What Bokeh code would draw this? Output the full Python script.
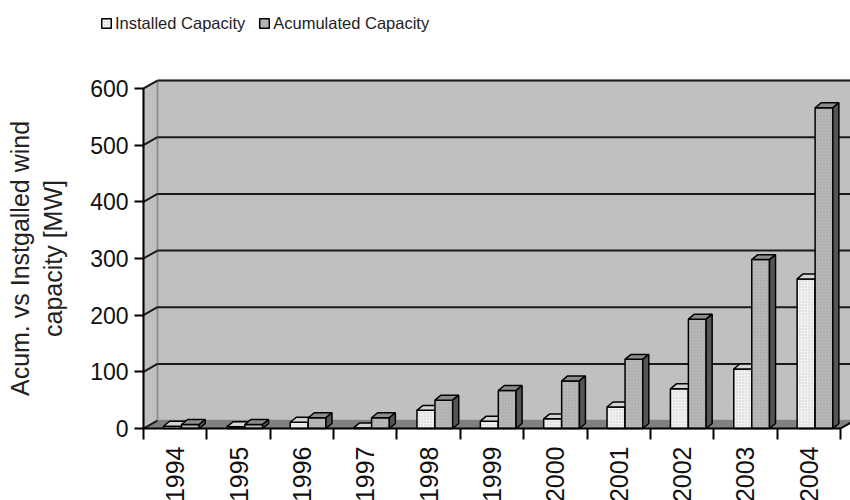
import math
import numpy as np
from bokeh.plotting import figure
from bokeh.models import (Range1d, LinearAxis, FixedTicker, Legend, LegendItem,
                          ColumnDataSource)
from bokeh.embed import file_html
from bokeh.resources import INLINE

# ---- data ----
years = ["1994", "1995", "1996", "1997", "1998", "1999", "2000", "2001", "2002", "2003", "2004"]
installed = [4, 3, 11, 1, 32, 13, 17, 38, 70, 105, 264]
accumulated = [7, 7, 19, 19, 50, 67, 84, 122, 193, 298, 566]
y_ticks = [0, 100, 200, 300, 400, 500, 600]
series_names = ["Installed Capacity", "Acumulated Capacity"]

# ---- geometry (3D look) ----
n = len(years)
idx = np.arange(n)
WALL_DX, WALL_DY = 0.22, 14.0     # depth of the back wall
BAR_DX, BAR_DY = 0.095, 8.8       # depth of each bar
ymax = max(y_ticks)
W, H = 850, 500
X0PX, UX = 143, 63.36             # screen x of category origin, px per category
Y0PX, UY = 428, 0.5667            # screen y of value 0, px per unit
x_start, x_end = -X0PX / UX, (W - X0PX) / UX
y_start, y_end = -(H - Y0PX) / UY, Y0PX / UY

p = figure(width=W, height=H, x_range=Range1d(x_start, x_end), y_range=Range1d(y_start, y_end),
           output_backend="svg", toolbar_location=None,
           x_axis_location=None, y_axis_location=None,
           min_border_left=0, min_border_right=0, min_border_top=0, min_border_bottom=0)
p.outline_line_color = None
p.background_fill_color = "white"
p.border_fill_color = "white"
p.grid.visible = False

# back wall
p.patch([WALL_DX, x_end + 1, x_end + 1, WALL_DX],
        [WALL_DY, WALL_DY, ymax + WALL_DY, ymax + WALL_DY],
        fill_color="#c0c0c0", line_color="#8a8a8a", line_width=1.5)
# left side wall
p.patch([0, WALL_DX, WALL_DX, 0], [0, WALL_DY, ymax + WALL_DY, ymax],
        fill_color="#c0c0c0", line_color="#8a8a8a", line_width=1.5)
# floor
p.patch([0, n, n + WALL_DX, WALL_DX], [0, 0, WALL_DY, WALL_DY],
        fill_color="#808080", line_color="#808080", line_width=1)

# gridlines on back wall + stubs on side wall
grid_vals = [v for v in y_ticks if v > 0]
p.segment(x0=[WALL_DX] * len(grid_vals), y0=[v + WALL_DY for v in grid_vals],
          x1=[x_end + 1] * len(grid_vals), y1=[v + WALL_DY for v in grid_vals],
          line_color="#1a1a1a", line_width=2)
p.segment(x0=[0] * len(y_ticks), y0=y_ticks,
          x1=[WALL_DX] * len(y_ticks), y1=[v + WALL_DY for v in y_ticks],
          line_color="#1a1a1a", line_width=2)

# bars
inst_left = idx + 0.316
inst_right = idx + 0.60
acc_left = inst_right
acc_right = idx + 0.88


def tops(l, r, v):
    xs = [[a, b, b + BAR_DX, a + BAR_DX] for a, b in zip(l, r)]
    ys = [[t, t, t + BAR_DY, t + BAR_DY] for t in v]
    return dict(xs=xs, ys=ys)


def sides(r, v):
    xs = [[b, b + BAR_DX, b + BAR_DX, b] for b in r]
    ys = [[0, BAR_DY, t + BAR_DY, t] for t in v]
    return dict(xs=xs, ys=ys)


inst_src = ColumnDataSource(dict(left=inst_left, right=inst_right, top=installed, bottom=[0] * n))
acc_src = ColumnDataSource(dict(left=acc_left, right=acc_right, top=accumulated, bottom=[0] * n))

r_inst = p.quad(source=inst_src, left="left", right="right", top="top", bottom="bottom",
                fill_color="#f2f2f2", line_color="black", line_width=1.5,
                hatch_pattern="dot", hatch_color="#a8a8a8", hatch_scale=3, hatch_alpha=0.6)
p.patches(source=ColumnDataSource(tops(inst_left, inst_right, installed)), xs="xs", ys="ys",
          fill_color="#d4d4d4", line_color="black", line_width=1.5)
p.patches(source=ColumnDataSource(sides(inst_right, installed)), xs="xs", ys="ys",
          fill_color="#707070", line_color="black", line_width=1.5)

r_acc = p.quad(source=acc_src, left="left", right="right", top="top", bottom="bottom",
               fill_color="#b8b8b8", line_color="black", line_width=1.5,
               hatch_pattern="dot", hatch_color="#909090", hatch_scale=3, hatch_alpha=0.6)
p.patches(source=ColumnDataSource(tops(acc_left, acc_right, accumulated)), xs="xs", ys="ys",
          fill_color="#8c8c8c", line_color="black", line_width=1.5)
p.patches(source=ColumnDataSource(sides(acc_right, accumulated)), xs="xs", ys="ys",
          fill_color="#555555", line_color="black", line_width=1.5)

# right end diagonal of x axis
p.segment(x0=[n], y0=[0], x1=[n + WALL_DX], y1=[WALL_DY], line_color="black", line_width=2)

# y axis (inside the frame, at category origin)
yaxis = LinearAxis(fixed_location=0, ticker=FixedTicker(ticks=y_ticks), bounds=(0, ymax),
                   axis_label="Acum. vs Instgalled wind\ncapacity [MW]",
                   axis_label_text_font="Liberation Sans", axis_label_text_font_size="25px",
                   axis_label_text_font_style="normal", axis_label_text_color="#222222",
                   axis_label_standoff=20,
                   major_label_text_font="Liberation Sans", major_label_text_font_size="23px",
                   major_label_text_color="#111111", major_label_standoff=6,
                   axis_line_width=2, major_tick_line_width=2, major_tick_out=9, major_tick_in=0,
                   minor_tick_line_color=None)
p.add_layout(yaxis, "left")

# x axis line and boundary ticks
xaxis_ticks = LinearAxis(fixed_location=0, ticker=FixedTicker(ticks=list(range(n + 1))),
                         bounds=(0, n), major_label_overrides={i: "" for i in range(n + 1)},
                         axis_line_width=2, major_tick_line_width=2, major_tick_out=11,
                         major_tick_in=0, minor_tick_line_color=None)
p.add_layout(xaxis_ticks, "below")

# year labels
centers = [i + 0.5 for i in range(n)]
xaxis_labels = LinearAxis(fixed_location=0, ticker=FixedTicker(ticks=centers),
                          major_label_overrides={c: y for c, y in zip(centers, years)},
                          major_label_orientation=math.pi / 2,
                          major_label_text_font="Liberation Sans", major_label_text_font_size="25px",
                          major_label_text_color="#111111",
                          major_label_standoff=18, major_tick_out=0, major_tick_in=0,
                          axis_line_color=None, major_tick_line_color=None,
                          minor_tick_line_color=None)
p.add_layout(xaxis_labels, "below")

legend = Legend(items=[LegendItem(label=series_names[0], renderers=[r_inst]),
                       LegendItem(label=series_names[1], renderers=[r_acc])],
                orientation="horizontal", location=(100, 467),
                glyph_width=12, glyph_height=12, label_standoff=3, spacing=13,
                label_height=20,
                label_text_font="Liberation Sans", label_text_font_size="16.5px",
                label_text_color="#222222",
                padding=0, margin=0, border_line_color=None, background_fill_alpha=0)
p.add_layout(legend)

open("out.html", "w").write(file_html(p, INLINE))
